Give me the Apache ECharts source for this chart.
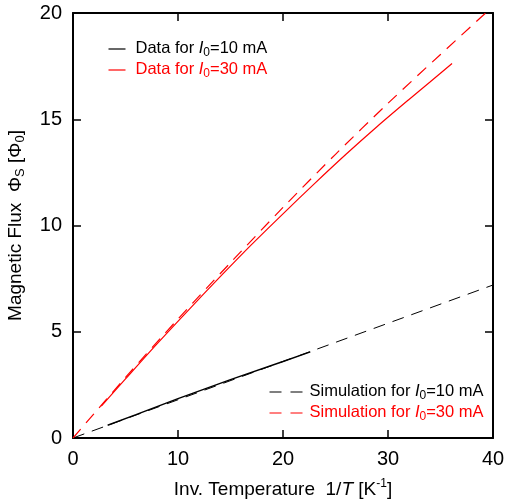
<!DOCTYPE html>
<html>
<head>
    <meta charset="utf-8">
    <title>ECharts</title>
    <script src="https://cdn.jsdelivr.net/npm/echarts@6/dist/echarts.min.js"></script>
</head>
<style>
html,
body {
    margin: 0px;
    width: 100%;
    height: 100%;
    background: #fff;
}
div#main {
    position: absolute;
    left: 0;
    top: 0;
    width: 506px;
    height: 500px;
}
</style>
<body>
    <div id="main"></div>
    <script type="text/javascript">
        // [1/T, flux]
        var data10 = [[3.3, 0.6], [6, 1.1], [10, 1.85], [15, 2.75], [20, 3.6], [22.6, 4.05]];
        var data30 = [[2.7, 1.5], [5, 2.78], [8, 4.43], [11, 6.02], [14, 7.58], [17, 9.1],
                      [20, 10.55], [23, 11.97], [26, 13.35], [29, 14.67], [32, 15.93],
                      [34, 16.75], [36.1, 17.62]];
        var sim10 = [[0, 0], [10, 1.8], [20, 3.6], [30, 5.4], [40, 7.2]];
        var sim30 = [[0, 0], [5, 2.85], [10, 5.6], [15, 8.25], [20, 10.85], [25, 13.35],
                     [30, 15.75], [35, 18.05], [39.3, 20]];
        var xTicks = [0, 10, 20, 30, 40];
        var yTicks = [0, 5, 10, 15, 20];

        var font = 'Liberation Sans, Arial, sans-serif';
        var myChart = echarts.init(document.getElementById('main'));

        function axisBase(pos, ticks, interval) {
            return {
                type: 'value',
                position: pos,
                min: ticks[0],
                max: ticks[ticks.length - 1],
                interval: interval,
                axisLine: { show: true, onZero: false, lineStyle: { color: '#000', width: 2 } },
                axisTick: { show: true, inside: true, length: 8, lineStyle: { color: '#000', width: 1.5 } },
                splitLine: { show: false },
                axisLabel: { show: false }
            };
        }

        var xBottom = axisBase('bottom', xTicks, 10);
        xBottom.axisLabel = { show: true, color: '#000', fontSize: 20, fontFamily: font, margin: 11 };
        xBottom.name = 'Inv. Temperature  1/{i|T} [K{sup|-1}]';
        xBottom.nameLocation = 'middle';
        xBottom.nameGap = 40;
        xBottom.nameTextStyle = {
            color: '#000', fontSize: 19, fontFamily: font,
            rich: {
                i: { fontStyle: 'italic', fontSize: 19, fontFamily: font, color: '#000' },
                sup: { fontSize: 12, fontFamily: font, color: '#000', padding: [0, 0, 11, 0] }
            }
        };
        var xTop = axisBase('top', xTicks, 10);

        var yLeft = axisBase('left', yTicks, 5);
        yLeft.axisLabel = { show: true, color: '#000', fontSize: 20, fontFamily: font, margin: 11 };
        yLeft.name = 'Magnetic Flux  \u03A6{sub|S} [\u03A6{sub|0}]';
        yLeft.nameLocation = 'middle';
        yLeft.nameGap = 46;
        yLeft.nameTextStyle = {
            color: '#000', fontSize: 19, fontFamily: font,
            rich: {
                sub: { fontSize: 13, fontFamily: font, color: '#000', padding: [9, 0, 0, 0] }
            }
        };
        var yRight = axisBase('right', yTicks, 5);

        function legendItem(x, y, color, dashed, label) {
            return {
                type: 'group',
                left: x,
                top: y,
                children: [
                    { type: 'line', shape: { x1: 0, y1: 9, x2: dashed ? 33 : 17, y2: 9 },
                      style: { stroke: color, lineWidth: 1.2, lineDash: dashed ? [12, 9] : null } },
                    { type: 'text', left: dashed ? 40 : 27, top: 0,
                      style: {
                          text: label, fill: color, fontSize: 16.5, fontFamily: font,
                          rich: {
                              i: { fontStyle: 'italic', fontSize: 16.5, fontFamily: font, fill: color },
                              s: { fontSize: 12, fontFamily: font, fill: color, padding: [8, 0, 0, 0] }
                          }
                      } }
                ]
            };
        }

        var option = {
            backgroundColor: '#fff',
            animation: false,
            grid: { left: 73, right: 13, top: 13, bottom: 62, containLabel: false, outerBoundsMode: 'none' },
            xAxis: [xBottom, xTop],
            yAxis: [yLeft, yRight],
            series: [
                { type: 'line', data: sim10, showSymbol: false, xAxisIndex: 0, yAxisIndex: 0,
                  lineStyle: { color: '#000', width: 1, type: [12, 8] } },
                { type: 'line', data: sim30, showSymbol: false, smooth: 0.3, xAxisIndex: 0, yAxisIndex: 0,
                  lineStyle: { color: '#ff0000', width: 1.2, type: [12, 8] } },
                { type: 'line', data: data10, showSymbol: false, xAxisIndex: 0, yAxisIndex: 0,
                  lineStyle: { color: '#000', width: 1.4 } },
                { type: 'line', data: data30, showSymbol: false, smooth: 0.3, xAxisIndex: 0, yAxisIndex: 0,
                  lineStyle: { color: '#ff0000', width: 1.2 } }
            ],
            graphic: [
                legendItem(106, 40, '#000', false, 'Data for {i|I}{s|0}=10 mA'),
                legendItem(106, 61, '#ff0000', false, 'Data for {i|I}{s|0}=30 mA'),
                legendItem(267, 383, '#000', true, 'Simulation for {i|I}{s|0}=10 mA'),
                legendItem(267, 404, '#ff0000', true, 'Simulation for {i|I}{s|0}=30 mA')
            ]
        };
        myChart.setOption(option);
    </script>
</body>
</html>
